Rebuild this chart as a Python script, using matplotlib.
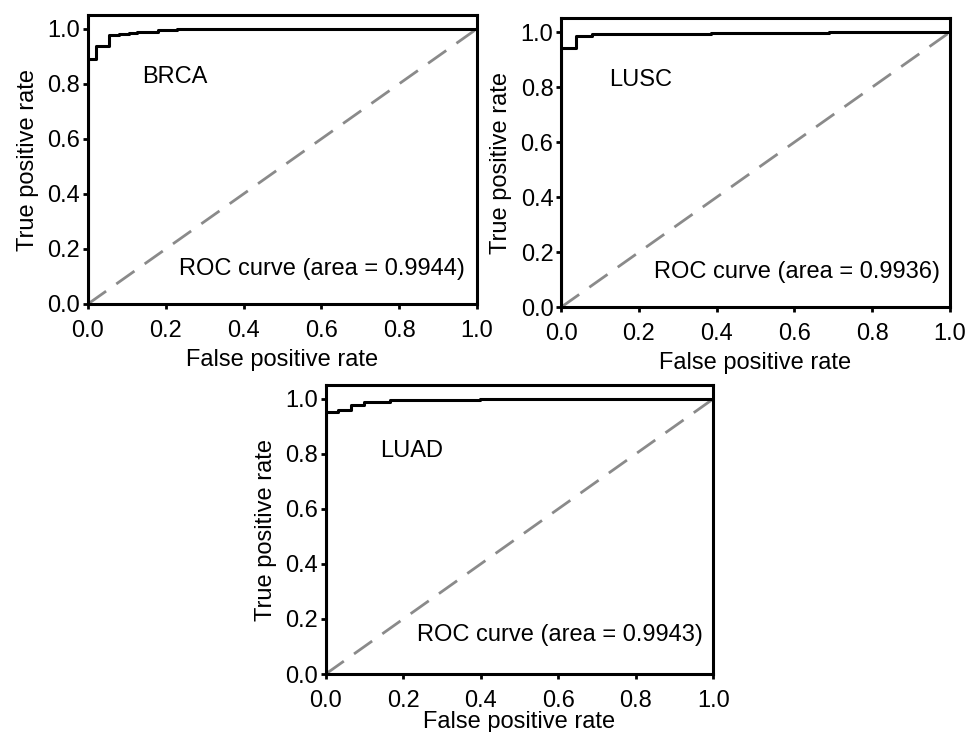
import numpy as np
import matplotlib
matplotlib.use("Agg")
import matplotlib.pyplot as plt

plt.rcParams['font.family'] = ['Liberation Sans', 'DejaVu Sans']

# ROC step points (fpr, tpr)
brca_fpr = [0.0, 0.0, 0.02, 0.02, 0.053, 0.053, 0.079, 0.079, 0.105, 0.105, 0.126, 0.126, 0.18, 0.18, 0.229, 0.229, 1.0]
brca_tpr = [0.0, 0.89, 0.89, 0.939, 0.939, 0.976, 0.976, 0.98, 0.98, 0.985, 0.985, 0.99, 0.99, 0.995, 0.995, 1.0, 1.0]

lusc_fpr = [0.0, 0.0, 0.039, 0.039, 0.08, 0.08, 0.385, 0.385, 0.69, 0.69, 1.0]
lusc_tpr = [0.0, 0.942, 0.942, 0.987, 0.987, 0.993, 0.993, 0.996, 0.996, 1.0, 1.0]

luad_fpr = [0.0, 0.0, 0.033, 0.033, 0.064, 0.064, 0.099, 0.099, 0.166, 0.166, 0.265, 0.265, 0.398, 0.398, 1.0]
luad_tpr = [0.0, 0.953, 0.953, 0.961, 0.961, 0.977, 0.977, 0.989, 0.989, 0.994, 0.994, 0.996, 0.996, 1.0, 1.0]

names = ['BRCA', 'LUSC', 'LUAD']
areas = [0.9944, 0.9936, 0.9943]

FS = 17

fig = plt.figure(figsize=(9.74, 7.32), dpi=100)

# [left, bottom, width, height], label positions, xlabel pad
panels = [
    ([0.0903, 0.5847, 0.3994, 0.3948], brca_fpr, brca_tpr, (0.14, 0.825), (0.97, 0.127), 5),
    ([0.576, 0.5802, 0.3994, 0.3948], lusc_fpr, lusc_tpr, (0.123, 0.825), (0.975, 0.128), 5),
    ([0.3344, 0.0792, 0.398, 0.3948], luad_fpr, luad_tpr, (0.14, 0.81), (0.973, 0.14), -1),
]

for (rect, fpr, tpr, name_pos, roc_pos, xpad), name, area in zip(panels, names, areas):
    ax = fig.add_axes(rect)
    ax.plot([0, 1], [0, 1], color='#8a8a8a', lw=2, dashes=(8, 4.5))
    ax.plot(fpr, tpr, color='black', lw=2.2)
    ax.set_xlim(0, 1)
    ax.set_ylim(0, 1.05)
    ax.set_xticks(np.arange(0, 1.01, 0.2))
    ax.set_yticks(np.arange(0, 1.01, 0.2))
    ax.xaxis.set_major_formatter(matplotlib.ticker.FormatStrFormatter('%.1f'))
    ax.yaxis.set_major_formatter(matplotlib.ticker.FormatStrFormatter('%.1f'))
    ax.tick_params(direction='out', length=3.5, width=2, labelsize=FS)
    ax.tick_params(axis='x', pad=8)
    ax.tick_params(axis='y', pad=2)
    for s in ax.spines.values():
        s.set_linewidth(2.2)
    ax.set_xlabel('False positive rate', fontsize=FS, labelpad=xpad)
    ax.set_ylabel('True positive rate', fontsize=FS, labelpad=6)
    ax.text(name_pos[0], name_pos[1], name, fontsize=FS, ha='left', va='center')
    ax.text(roc_pos[0], roc_pos[1], 'ROC curve (area = %.4f)' % area,
            fontsize=FS, ha='right', va='center')

fig.savefig('out.png', dpi=100)
